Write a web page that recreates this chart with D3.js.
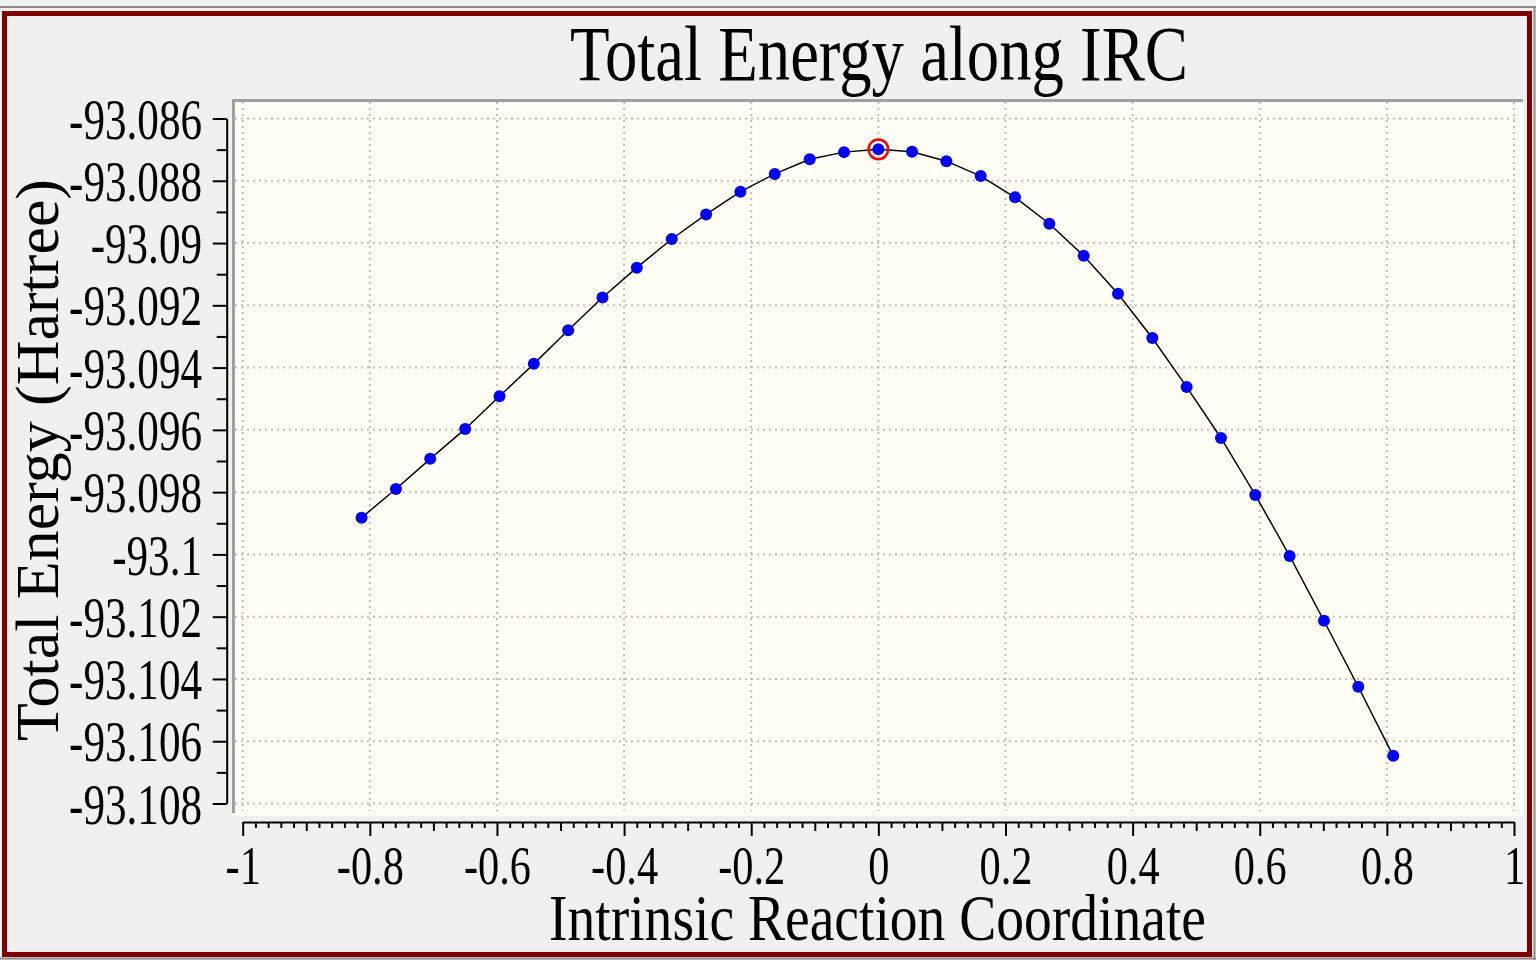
<!DOCTYPE html>
<html>
<head>
<meta charset="utf-8">
<script src="https://cdn.jsdelivr.net/npm/d3@7"></script>
<style>
  html, body { margin: 0; padding: 0; background: #f0f0f0; }
  svg { display: block; }
  text { font-family: "Liberation Serif", "Times New Roman", serif; fill: #000; }
</style>
</head>
<body>
<script>
// ---------- data ----------
const irc = [-0.813, -0.759, -0.705, -0.650, -0.596, -0.542, -0.488, -0.434, -0.380, -0.325,
             -0.271, -0.217, -0.163, -0.108, -0.054, 0.000, 0.053, 0.107, 0.161, 0.215,
             0.269, 0.323, 0.377, 0.431, 0.485, 0.539, 0.593, 0.647, 0.701, 0.755, 0.810];
const energy = [-93.09882, -93.09790, -93.09693, -93.09597, -93.09492, -93.09388, -93.09280, -93.09175,
                -93.09079, -93.08987, -93.08908, -93.08835, -93.08778, -93.08731, -93.08708, -93.08699,
                -93.08707, -93.08737, -93.08785, -93.08853, -93.08938, -93.09041, -93.09163, -93.09305,
                -93.09462, -93.09626, -93.09809, -93.10005, -93.10213, -93.10425, -93.10647];
const tsIndex = 15; // highlighted transition state point
const yTickValues = [-93.086, -93.088, -93.090, -93.092, -93.094, -93.096, -93.098,
                     -93.100, -93.102, -93.104, -93.106, -93.108];
const yTickLabels = ["-93.086", "-93.088", "-93.09", "-93.092", "-93.094", "-93.096", "-93.098",
                     "-93.1", "-93.102", "-93.104", "-93.106", "-93.108"];
const xTickValues = [-1, -0.8, -0.6, -0.4, -0.2, 0, 0.2, 0.4, 0.6, 0.8, 1];
const xTickLabels = ["-1", "-0.8", "-0.6", "-0.4", "-0.2", "0", "0.2", "0.4", "0.6", "0.8", "1"];
const titleText = "Total Energy along IRC";
const xTitle = "Intrinsic Reaction Coordinate";
const yTitle = "Total Energy (Hartree)";

// ---------- layout ----------
const W = 1536, H = 960;
const svg = d3.select("body").append("svg").attr("width", W).attr("height", H);

const x = d3.scaleLinear().domain([-1, 1]).range([242.7, 1514]);
const y = d3.scaleLinear().domain([-93.108, -93.086]).range([803.5, 118.5]);

// window frame
svg.append("rect").attr("width", W).attr("height", H).attr("fill", "#f0f0f0");
svg.append("line").attr("x1", 0).attr("x2", W).attr("y1", 7).attr("y2", 7)
  .attr("stroke", "#8c8c8c").attr("stroke-width", 2);
svg.append("line").attr("x1", 0).attr("x2", W).attr("y1", 958.5).attr("y2", 958.5)
  .attr("stroke", "#8c8c8c").attr("stroke-width", 2);
svg.append("line").attr("x1", 1534.5).attr("x2", 1534.5).attr("y1", 7).attr("y2", H)
  .attr("stroke", "#8c8c8c").attr("stroke-width", 2);
svg.append("rect").attr("x", 4.5).attr("y", 13.5).attr("width", 1525).attr("height", 941)
  .attr("fill", "#f0f0f0").attr("stroke", "#800000").attr("stroke-width", 5);

// plot area
svg.append("rect").attr("x", 232).attr("y", 99).attr("width", 1292).attr("height", 717)
  .attr("fill", "#fffff5");
svg.append("line").attr("x1", 232).attr("x2", 1523).attr("y1", 100.5).attr("y2", 100.5)
  .attr("stroke", "#a0a0a0").attr("stroke-width", 3);
svg.append("line").attr("x1", 233.5).attr("x2", 233.5).attr("y1", 99).attr("y2", 813)
  .attr("stroke", "#a0a0a0").attr("stroke-width", 3);

// gridlines
const grid = svg.append("g").attr("stroke", "#c0c0c0").attr("stroke-width", 2)
  .attr("stroke-dasharray", "2,4");
grid.selectAll(".hg").data(yTickValues).join("line")
  .attr("x1", 235).attr("x2", 1518)
  .attr("y1", d => y(d)).attr("y2", d => y(d));
grid.selectAll(".vg").data(xTickValues).join("line")
  .attr("y1", 102).attr("y2", 811)
  .attr("x1", d => x(d)).attr("x2", d => x(d));

// curve
const pts = irc.map((v, i) => [v, energy[i]]);
svg.append("path").datum(pts)
  .attr("fill", "none").attr("stroke", "#000").attr("stroke-width", 1.5)
  .attr("d", d3.line().x(d => x(d[0])).y(d => y(d[1])));
svg.append("g").selectAll("circle").data(pts).join("circle")
  .attr("cx", d => x(d[0])).attr("cy", d => y(d[1])).attr("r", 6).attr("fill", "#0000ff");
svg.append("circle").attr("cx", x(irc[tsIndex])).attr("cy", y(energy[tsIndex])).attr("r", 9.8)
  .attr("fill", "none").attr("stroke", "#ff0000").attr("stroke-width", 2.5);

// ---------- axes ----------
const SX = 0.77;
// Y axis
const yAxisG = svg.append("g").attr("transform", "translate(226.7,0)")
  .call(d3.axisLeft(y).tickValues(yTickValues).tickSize(14).tickSizeOuter(0)
    .tickFormat((d, i) => yTickLabels[i]));
const yMinor = yTickValues.slice(0, -1).map(v => Math.round((v - 0.001) * 1e6) / 1e6);
svg.append("g").attr("transform", "translate(226.7,0)")
  .call(d3.axisLeft(y).tickValues(yMinor).tickSize(10).tickSizeOuter(0).tickFormat(""))
  .call(g => g.select(".domain").remove());
// X axis
const xAxisG = svg.append("g").attr("transform", "translate(0,822)")
  .call(d3.axisBottom(x).tickValues(xTickValues).tickSize(14).tickSizeOuter(0)
    .tickFormat((d, i) => xTickLabels[i]));
const xMid = d3.range(-9, 10, 2).map(k => k / 10);
svg.append("g").attr("transform", "translate(0,822)")
  .call(d3.axisBottom(x).tickValues(xMid).tickSize(9).tickSizeOuter(0).tickFormat(""))
  .call(g => g.select(".domain").remove());
const xMinor = d3.range(-100, 101, 2).filter(k => k % 10 !== 0).map(k => k / 100);
svg.append("g").attr("transform", "translate(0,822)")
  .call(d3.axisBottom(x).tickValues(xMinor).tickSize(6).tickSizeOuter(0).tickFormat(""))
  .call(g => g.select(".domain").remove());

svg.selectAll(".domain, .tick line").attr("stroke", "#000").attr("stroke-width", 2);

yAxisG.selectAll(".tick text")
  .attr("font-family", "Liberation Serif").attr("font-size", 56).attr("fill", "#000")
  .attr("x", -24.7 / SX).attr("y", 0).attr("dy", "0.35em")
  .attr("transform", `scale(${SX},1)`);
xAxisG.selectAll(".tick text")
  .attr("font-family", "Liberation Serif").attr("font-size", 55).attr("fill", "#000")
  .attr("y", 62).attr("dy", 0)
  .attr("transform", `scale(${SX},1)`);

// ---------- titles ----------
svg.append("text").attr("x", 879).attr("y", 80).attr("text-anchor", "middle")
  .attr("font-size", 78).attr("textLength", 618).attr("lengthAdjust", "spacingAndGlyphs")
  .text(titleText);
svg.append("text").attr("x", 877.5).attr("y", 940).attr("text-anchor", "middle")
  .attr("font-size", 65).attr("textLength", 657).attr("lengthAdjust", "spacingAndGlyphs")
  .text(xTitle);
svg.append("text").attr("transform", "translate(58,460) rotate(-90)").attr("text-anchor", "middle")
  .attr("font-size", 62).attr("textLength", 562).attr("lengthAdjust", "spacingAndGlyphs")
  .text(yTitle);
</script>
</body>
</html>
